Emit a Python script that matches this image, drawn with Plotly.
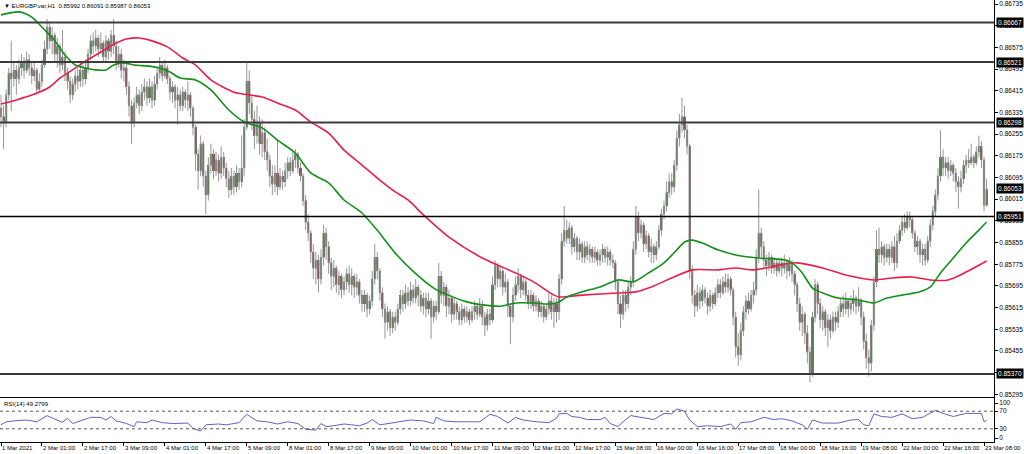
import plotly.graph_objects as go

# ---------------- data (prices in pips x 0.0001) ----------------
open_first_pips = 8635
close_pips = [
 8632,8630,8640,8648,8646,8649,8646,8650, 8652,8649,8653,8650,8647,8649,8642,8645,
 8651,8657,8665,8660,8662,8655,8658,8651, 8654,8648,8645,8640,8644,8647,8645,8649,
 8646,8650,8655,8660,8658,8661,8657,8659, 8654,8660,8656,8662,8658,8652,8655,8649,
 8650,8643,8636,8630,8637,8640,8636,8641, 8643,8639,8643,8638,8644,8648,8651,8647,
 8650,8646,8641,8643,8638,8640,8636,8641, 8638,8640,8635,8628,8618,8612,8622,8610,
 8603,8614,8618,8612,8616,8611,8617,8613, 8609,8605,8610,8606,8611,8608,8613,8628,
 8645,8637,8631,8625,8630,8622,8626,8619, 8616,8610,8607,8611,8606,8610,8608,8612,
 8615,8612,8616,8618,8613,8610,8601,8593, 8589,8582,8576,8579,8572,8580,8589,8584,
 8578,8573,8576,8570,8573,8568,8571,8574, 8570,8573,8569,8571,8566,8563,8566,8561,
 8564,8572,8580,8575,8567,8561,8556,8560, 8554,8558,8556,8561,8566,8563,8567,8564,
 8568,8565,8569,8566,8562,8565,8561,8564, 8558,8562,8560,8573,8566,8569,8562,8565,
 8559,8563,8560,8557,8561,8558,8560,8557, 8560,8562,8559,8562,8558,8555,8559,8557,
 8570,8577,8572,8575,8569,8571,8562,8558, 8566,8570,8573,8568,8571,8566,8563,8566,
 8562,8564,8560,8562,8558,8561,8564,8560, 8563,8560,8572,8586,8590,8587,8591,8584,
 8587,8582,8585,8580,8584,8581,8583,8580, 8582,8579,8581,8583,8580,8582,8579,8578,
 8571,8563,8559,8566,8563,8569,8571,8583, 8595,8589,8592,8585,8588,8582,8584,8581,
 8584,8590,8596,8599,8604,8608,8606,8614, 8624,8629,8632,8627,8621,8575,8566,8562,
 8567,8564,8568,8565,8562,8566,8563,8567, 8570,8567,8571,8569,8572,8568,8558,8547,
 8544,8553,8560,8564,8561,8566,8568,8580, 8589,8584,8579,8577,8580,8576,8578,8575,
 8578,8576,8578,8575,8578,8574,8570,8563, 8556,8559,8552,8545,8537,8558,8570,8563,
 8557,8560,8554,8557,8553,8558,8556,8560, 8563,8561,8564,8561,8563,8565,8562,8564,
 8558,8549,8543,8541,8555,8571,8583,8581, 8584,8580,8583,8580,8584,8578,8586,8590,
 8593,8591,8595,8594,8589,8584,8586,8581, 8583,8579,8586,8592,8597,8603,8610,8617,
 8613,8615,8612,8614,8611,8608,8606,8609, 8614,8616,8615,8617,8615,8619,8621,8616,
 8599.2,8605.3]
high_pips = [
 8640,8636,8642,8650,8660,8652,8651,8653, 8655,8654,8656,8655,8652,8652,8650,8648,
 8653,8660,8668,8667,8665,8663,8661,8659, 8664,8656,8650,8647,8646,8649,8650,8652,
 8651,8653,8657,8662,8663,8664,8662,8663, 8660,8662,8661,8664,8668,8660,8658,8657,
 8653,8652,8645,8638,8639,8643,8642,8644, 8646,8645,8646,8645,8647,8650,8654,8652,
 8653,8651,8647,8645,8644,8643,8642,8643, 8642,8645,8641,8636,8629,8620,8625,8623,
 8612,8617,8622,8620,8619,8618,8621,8619, 8615,8612,8613,8612,8614,8613,8625,8631,
 8652,8649,8640,8634,8636,8632,8631,8628, 8624,8618,8614,8614,8623,8613,8612,8615,
 8617,8617,8619,8620,8619,8615,8611,8603, 8596,8590,8585,8582,8581,8583,8592,8591,
 8586,8580,8579,8577,8575,8574,8573,8576, 8577,8576,8574,8574,8572,8568,8568,8567,
 8566,8575,8585,8582,8576,8569,8563,8562, 8561,8560,8560,8563,8568,8568,8570,8569,
 8571,8570,8572,8570,8568,8567,8567,8567, 8565,8564,8564,8578,8575,8571,8570,8568,
 8566,8565,8564,8562,8563,8562,8562,8561, 8562,8564,8563,8565,8564,8560,8561,8561,
 8573,8579,8578,8577,8576,8574,8572,8563, 8569,8573,8576,8574,8573,8572,8568,8568,
 8567,8566,8565,8564,8563,8563,8567,8566, 8565,8565,8574,8589,8599,8594,8593,8592,
 8589,8588,8587,8586,8586,8586,8585,8584, 8584,8583,8583,8585,8584,8584,8583,8581,
 8579,8572,8566,8568,8568,8571,8573,8586, 8599,8597,8594,8593,8590,8589,8587,8585,
 8586,8592,8598,8601,8608,8611,8611,8616, 8627,8633,8639,8636,8629,8622,8577,8568,
 8570,8569,8570,8569,8567,8568,8567,8569, 8572,8572,8573,8574,8574,8573,8569,8560,
 8552,8556,8562,8566,8567,8568,8571,8583, 8605,8591,8586,8581,8582,8581,8580,8579,
 8580,8580,8581,8579,8580,8579,8575,8571, 8565,8562,8560,8555,8547,8560,8572,8571,
 8565,8562,8561,8559,8559,8560,8560,8562, 8565,8566,8567,8565,8566,8568,8566,8569,
 8565,8560,8552,8546,8557,8573,8590,8591, 8586,8585,8585,8585,8586,8588,8589,8592,
 8595,8596,8597,8597,8595,8590,8588,8587, 8585,8585,8588,8594,8599,8605,8613,8627,
 8620,8617,8617,8616,8615,8613,8610,8612, 8616,8618,8620,8622,8618,8621,8625,8623,
 8617,8609.1]
low_pips = [
 8628,8620,8628,8638,8634,8643,8640,8644, 8647,8646,8648,8647,8644,8645,8640,8641,
 8643,8650,8655,8657,8655,8652,8650,8648, 8649,8645,8642,8637,8638,8641,8642,8643,
 8643,8644,8648,8653,8655,8656,8654,8655, 8652,8652,8653,8654,8655,8649,8650,8646,
 8645,8640,8632,8622,8628,8635,8633,8634, 8638,8636,8637,8635,8636,8642,8646,8645,
 8646,8644,8638,8637,8635,8629,8634,8634, 8635,8634,8632,8625,8612,8605,8610,8606,
 8596,8601,8611,8609,8610,8608,8609,8610, 8606,8602,8603,8603,8604,8605,8606,8610,
 8627,8633,8627,8620,8622,8618,8617,8616, 8612,8606,8603,8604,8603,8605,8605,8606,
 8609,8610,8611,8613,8611,8608,8599,8590, 8586,8578,8572,8570,8567,8570,8577,8579,
 8574,8568,8569,8567,8566,8565,8566,8568, 8567,8566,8565,8566,8563,8560,8560,8558,
 8559,8562,8570,8572,8564,8558,8550,8553, 8551,8552,8553,8555,8559,8560,8561,8562,
 8562,8563,8563,8562,8560,8559,8558,8559, 8550,8556,8557,8559,8563,8562,8558,8559,
 8556,8557,8557,8555,8555,8556,8556,8555, 8556,8557,8557,8558,8555,8551,8553,8555,
 8556,8568,8569,8569,8566,8567,8558,8548, 8556,8564,8567,8565,8566,8564,8561,8561,
 8560,8560,8558,8558,8556,8557,8559,8557, 8554,8556,8557,8570,8584,8585,8585,8581,
 8582,8579,8579,8578,8578,8579,8578,8578, 8578,8577,8577,8578,8578,8577,8577,8576,
 8568,8559,8554,8557,8560,8561,8566,8569, 8581,8586,8587,8582,8583,8580,8578,8578,
 8579,8583,8588,8594,8597,8602,8603,8604, 8612,8621,8626,8624,8618,8572,8563,8558,
 8560,8561,8562,8563,8559,8560,8561,8562, 8565,8565,8566,8567,8567,8566,8555,8543,
 8540,8542,8551,8557,8559,8560,8563,8566, 8578,8580,8576,8573,8575,8574,8574,8573,
 8574,8573,8574,8572,8573,8571,8566,8560, 8553,8551,8548,8541,8534,8536,8556,8559,
 8554,8553,8551,8547,8550,8552,8553,8554, 8558,8558,8559,8558,8559,8560,8559,8560,
 8555,8546,8539,8536,8538,8553,8569,8578, 8578,8577,8578,8577,8578,8575,8576,8585,
 8588,8589,8590,8591,8587,8582,8581,8578, 8577,8577,8578,8584,8590,8595,8601,8608,
 8610,8610,8609,8610,8608,8604,8598,8604, 8607,8611,8613,8614,8613,8614,8617,8613,
 8597,8598.7]

# moving averages (green = fast, red = slow), sampled at bar indices
ma_fast_idx = [0,7,12,17,21,25,29,33,37,41,44,48,52,58,62,66,70,76,82,89,95,102,108,115,121,
               128,134,141,147,154,162,169,175,182,188,195,201,208,214,218,221,227,234,241,247,
               253,259,264,267,270,274,280,287,296,306,309,313,317,321,327,335,341,346,352,359,
               363,367,372,377,382,385]
ma_fast_pips = [8669.5,8670.6,8668.7,8664,8660,8654.7,8651,8649.9,8649.2,8649.2,8651,8651.8,8651,
                8650.6,8649.9,8648.4,8646.2,8645.5,8641.8,8634.4,8630,8627.8,8623.3,8618.5,8611.2,
                8607.5,8601.2,8596.4,8590,8581.6,8574,8568.7,8566,8563.6,8562.5,8562,8563.2,8563.2,
                8562.8,8563.6,8565.4,8567.3,8569.1,8571.7,8571,8574.3,8578,8582.8,8585.7,8586.4,
                8585.3,8582.8,8580.9,8579.8,8579.1,8578,8574.3,8568.7,8566.9,8565,8564.3,8563.2,
                8565,8566.1,8567.3,8569.1,8574.3,8579.8,8585.3,8590.1,8593.1]
ma_slow_idx = [0,6,12,19,23,26,32,39,45,49,54,58,65,71,76,82,91,102,108,115,121,128,134,141,147,
               154,159,165,175,188,201,208,216,218,227,241,248,254,262,270,280,287,294,301,306,
               311,321,330,341,348,356,363,370,377,385]
ma_slow_pips = [8636.6,8638.1,8639.9,8642.9,8646.2,8648,8651.8,8655.8,8659.1,8660.6,8661,8660.2,
                8657.7,8653.6,8651,8645.5,8641,8639.2,8637,8634.4,8630,8625.9,8619.6,8614.1,8609.3,
                8604.2,8601.2,8595.7,8587.5,8579.8,8574.3,8571,8566.1,8565.4,8566.1,8566.9,8567.3,
                8569.1,8572.4,8575.4,8575.4,8576.1,8575.4,8576.5,8577.6,8578,8576.1,8573.5,8571.7,
                8572.4,8572.8,8571.7,8571.7,8574.6,8578.7]

# RSI(14)
rsi_idx = [0,2,5,10,14,18,21,24,26,28,31,35,39,41,43,45,49,52,53,57,59,63,67,73,75,78,80,85,88,93,
           96,100,104,108,112,116,119,123,125,127,130,134,137,140,143,145,148,151,156,160,165,169,
           170,173,177,182,187,191,194,198,201,204,209,214,217,218,221,223,226,229,234,236,238,241,
           243,246,250,255,259,262,264,267,269,272,276,281,285,287,289,293,298,302,305,309,313,315,
           317,321,327,332,335,337,339,341,344,348,352,356,360,365,368,372,377,381,383,384,385]
rsi_val = [39,46,48,50,46,60,52,45,54,42,48,56,56,50,58,48,42,35,46,44,50,44,42,43,31,25,39,41,39,44,
           63,48,46,41,46,42,29,27,42,35,37,41,39,37,43,51,39,42,46,50,48,42,56,48,46,46,46,63,58,43,
           56,50,46,44,54,64,65,58,56,51,51,56,42,35,46,60,56,51,65,64,75,70,50,35,37,35,41,29,44,46,
           56,51,53,48,39,29,50,43,43,50,51,39,37,64,58,56,64,53,56,72,65,58,65,66,65,46,49.28]

# horizontal levels and price-scale
levels = [0.86667, 0.86521, 0.86298, 0.85951, 0.85370]
current_price = 0.86053
price_ticks = [0.86735,0.86655,0.86575,0.86495,0.86415,0.86335,0.86255,0.86175,0.86095,0.86015,
               0.85935,0.85855,0.85775,0.85695,0.85615,0.85535,0.85455,0.85375,0.85295]
time_tick_idx = [0,16,32,48,64,80,96,112,128,144,160,176,192,208,224,240,256,272,288,304,320,336,352,368,384]
time_tick_text = ["1 Mar 2021","2 Mar 01:00","2 Mar 17:00","3 Mar 09:00","4 Mar 01:00","4 Mar 17:00",
                  "5 Mar 09:00","8 Mar 01:00","8 Mar 17:00","9 Mar 09:00","10 Mar 01:00","10 Mar 17:00",
                  "11 Mar 09:00","12 Mar 01:00","12 Mar 17:00","15 Mar 08:00","16 Mar 00:00","16 Mar 16:00",
                  "17 Mar 08:00","18 Mar 00:00","18 Mar 16:00","19 Mar 08:00","22 Mar 00:00","22 Mar 16:00",
                  "23 Mar 08:00"]
title_text = "\u25bc EURGBP.var,H1  0.85992 0.86091 0.85987 0.86053"
rsi_text = "RSI(14) 49.2799"

# ---------------- derived ----------------
close = [v / 10000 for v in close_pips]
high = [v / 10000 for v in high_pips]
low = [v / 10000 for v in low_pips]
opn = [open_first_pips / 10000] + close[:-1]
n = len(close)
idx = list(range(n))
body_base = [min(o, c) for o, c in zip(opn, close)]
body_h = [max(abs(c - o), 0.000008) for o, c in zip(opn, close)]
UP, DN = "#0a5a0a", "#6a1212"
body_col = [UP if c >= o else DN for o, c in zip(opn, close)]

FONT = "Liberation Sans"
fig = go.Figure()
fig.add_trace(go.Candlestick(
    x=idx, open=opn, high=high, low=low, close=close, xaxis="x", yaxis="y",
    increasing=dict(line=dict(color="#969696", width=1), fillcolor=UP),
    decreasing=dict(line=dict(color="#969696", width=1), fillcolor=DN),
    whiskerwidth=0, hoverinfo="skip", showlegend=False))
fig.add_trace(go.Bar(x=idx, y=body_h, base=body_base, width=0.8,
                     marker=dict(color=body_col, line=dict(width=0)),
                     xaxis="x", yaxis="y", hoverinfo="skip", showlegend=False))
fig.add_trace(go.Scatter(x=ma_slow_idx, y=[v / 10000 for v in ma_slow_pips], mode="lines",
                         line=dict(color="#e81f4c", width=1.6, shape="spline", smoothing=0.7),
                         xaxis="x", yaxis="y", hoverinfo="skip", showlegend=False))
fig.add_trace(go.Scatter(x=ma_fast_idx, y=[v / 10000 for v in ma_fast_pips], mode="lines",
                         line=dict(color="#14901a", width=1.6, shape="spline", smoothing=0.7),
                         xaxis="x", yaxis="y", hoverinfo="skip", showlegend=False))
fig.add_trace(go.Scatter(x=rsi_idx, y=rsi_val, mode="lines",
                         line=dict(color="#6161c6", width=1),
                         xaxis="x2", yaxis="y2", hoverinfo="skip", showlegend=False))

shapes = []
for lv in levels:
    thin = abs(lv - 0.85951) < 1e-6
    shapes.append(dict(type="line", xref="x domain", yref="y", x0=0, x1=1, y0=lv, y1=lv,
                       line=dict(color="#000000" if thin else "#3c3c3c", width=1.3 if thin else 2)))
for lv in (70, 30):
    shapes.append(dict(type="line", xref="x2 domain", yref="y2", x0=0, x1=1, y0=lv, y1=lv,
                       line=dict(color="#555555", width=1, dash="dot")))

ann = []
for lv in levels + [current_price]:
    ann.append(dict(xref="paper", yref="y", x=1.0, y=lv, xanchor="left", yanchor="middle",
                    xshift=2, text="%.5f" % lv, showarrow=False, bgcolor="#000000",
                    font=dict(family=FONT, size=6.5, color="#ffffff"), borderpad=1))
ann.append(dict(xref="paper", yref="paper", x=0.002, y=1, xanchor="left", yanchor="top", yshift=-1,
                text=title_text, showarrow=False, font=dict(family=FONT, size=6, color="#000000")))
ann.append(dict(xref="paper", yref="y2 domain", x=0.002, y=1, xanchor="left", yanchor="top", yshift=-1,
                text=rsi_text, showarrow=False, font=dict(family=FONT, size=6, color="#000000")))
for ti, tt in zip(time_tick_idx, time_tick_text):
    ann.append(dict(xref="x2", yref="paper", x=ti, y=0, xanchor="left", yanchor="top", yshift=-1,
                    xshift=-1, text=tt, showarrow=False, font=dict(family=FONT, size=6, color="#000000")))

XR = [-0.39, 387.9]
fig.update_layout(
    width=1024, height=454, margin=dict(l=0, r=30, t=0, b=12),
    paper_bgcolor="#ffffff", plot_bgcolor="#ffffff", showlegend=False, bargap=0,
    hovermode=False, shapes=shapes, annotations=ann,
    xaxis=dict(domain=[0, 1], anchor="y", range=XR, showticklabels=False, showgrid=False,
               zeroline=False, showline=True, linecolor="#000000", linewidth=1, ticks="",
               rangeslider=dict(visible=False), fixedrange=True),
    yaxis=dict(domain=[0.1018, 1], anchor="x", side="right", range=[0.85285, 0.86750],
               tickvals=price_ticks, ticktext=["%.5f" % v for v in price_ticks],
               tickfont=dict(family=FONT, size=6.5, color="#000000"), ticks="outside", ticklen=3,
               tickcolor="#000000", showgrid=False, zeroline=False, showline=True,
               linecolor="#000000", linewidth=1, fixedrange=True),
    xaxis2=dict(domain=[0, 1], anchor="y2", range=XR, matches="x", tickvals=time_tick_idx,
                ticktext=["" for _ in time_tick_idx], ticks="outside", ticklen=3, tickcolor="#000000",
                showgrid=False, zeroline=False, showline=True, mirror=True, linecolor="#000000",
                linewidth=1, fixedrange=True),
    yaxis2=dict(domain=[0, 0.0995], anchor="x2", side="right", range=[0, 100],
                tickvals=[9, 30, 70, 88.6], ticktext=["0", "30", "70", "100"],
                tickfont=dict(family=FONT, size=6.5, color="#000000"), ticks="outside", ticklen=3,
                tickcolor="#000000", showgrid=False, zeroline=False, showline=True,
                linecolor="#000000", linewidth=1, fixedrange=True),
)
fig.write_html("out.html", config={"displayModeBar": False},
               post_script="document.body.style.margin='0';document.body.style.padding='0';"
                           "document.body.style.overflow='hidden';")
